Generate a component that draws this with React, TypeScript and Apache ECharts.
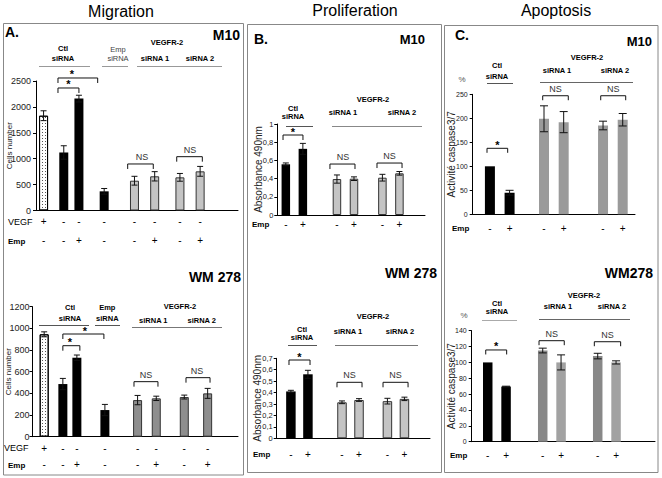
import { useEffect, useRef } from 'react';
import * as echarts from 'echarts';

const FONT = '"Liberation Sans", Arial, Helvetica, sans-serif';

// ---------------- DATA ----------------
// Migration (panel A): bars = VEGF, Ctl siRNA -, Ctl siRNA +, Emp siRNA, VEGFR-2 siRNA1 -, +, siRNA2 -, +
const migrationConditions = ['VEGF', 'Ctl siRNA -', 'Ctl siRNA +', 'Emp siRNA', 'siRNA 1 -', 'siRNA 1 +', 'siRNA 2 -', 'siRNA 2 +'];
const migrationVegfSigns = ['+', '-', '-', '-', '-', '-', '-', '-'];
const migrationEmpSigns = ['-', '-', '+', '-', '-', '+', '-', '+'];
const migrationM10Values = [1830, 1120, 2160, 370, 575, 660, 640, 756];
const migrationM10Errors = [95, 130, 65, 55, 85, 90, 75, 95];
const migrationWM278Values = [945, 486, 729, 246, 338, 354, 366, 400];
const migrationWM278Errors = [23, 52, 25, 52, 43, 20, 18, 46];

// Proliferation (panel B) and Apoptosis (panel C): Ctl siRNA -, +, siRNA1 -, +, siRNA2 -, +
const sixConditions = ['Ctl siRNA -', 'Ctl siRNA +', 'siRNA 1 -', 'siRNA 1 +', 'siRNA 2 -', 'siRNA 2 +'];
const sixEmpSigns = ['-', '+', '-', '+', '-', '+'];
const prolifM10Values = [0.557, 0.727, 0.395, 0.399, 0.41, 0.458];
const prolifM10Errors = [0.015, 0.06, 0.045, 0.02, 0.037, 0.02];
const prolifWM278Values = [0.41, 0.56, 0.315, 0.335, 0.325, 0.345];
const prolifWM278Errors = [0.01, 0.035, 0.012, 0.012, 0.025, 0.015];
const apopM10Values = [100, 45, 199, 192, 185, 197];
const apopM10Errors = [0, 5, 27, 22, 9, 13];
const apopWM278Values = [100, 69.5, 115, 100, 108, 100];
const apopWM278Errors = [0, 0.5, 3, 9.5, 3.5, 2];

// significance brackets: bar index a..b, height in data units
const migM10Brackets = [
  { a: 1, b: 3, y: 2558, text: '*' },
  { a: 1, b: 2, y: 2365, text: '*' },
  { a: 4, b: 5, y: 898, text: 'NS' },
  { a: 6, b: 7, y: 1039, text: 'NS' },
];
const migWMBrackets = [
  { a: 1, b: 3, y: 948, text: '*' },
  { a: 1, b: 2, y: 840, text: '*' },
  { a: 4, b: 5, y: 508, text: 'NS' },
  { a: 6, b: 7, y: 545, text: 'NS' },
];
const proM10Brackets = [
  { a: 0, b: 1, y: 0.879, text: '*' },
  { a: 2, b: 3, y: 0.56, text: 'NS' },
  { a: 4, b: 5, y: 0.571, text: 'NS' },
];
const proWMBrackets = [
  { a: 0, b: 1, y: 0.685, text: '*' },
  { a: 2, b: 3, y: 0.49, text: 'NS' },
  { a: 4, b: 5, y: 0.49, text: 'NS' },
];
const apoM10Brackets = [
  { a: 0, b: 1, y: 137.5, text: '*' },
  { a: 2, b: 3, y: 247, text: 'NS' },
  { a: 4, b: 5, y: 247, text: 'NS' },
];
const apoWMBrackets = [
  { a: 0, b: 1, y: 115.7, text: '*' },
  { a: 2, b: 3, y: 127.4, text: 'NS' },
  { a: 4, b: 5, y: 126.1, text: 'NS' },
];

// ---------------- STYLES / LAYOUT ----------------
const sBlack = { color: '#000' };
const sDotted = {
  color: '#fff', borderColor: '#000', borderWidth: 1,
  decal: { symbol: 'rect', symbolSize: 1, color: '#555', dashArrayX: [1, 2], dashArrayY: [1, 2] },
};
const sGreyLight = { color: '#c4c4c4', borderColor: '#333', borderWidth: 1 };
const sGreyDark = { color: '#8e8e8e', borderColor: '#333', borderWidth: 1 };
const sGreyC = { color: '#9a9a9a' };
const sGreyCD = { color: '#888888' };
const sGreyCL = { color: '#a2a2a2' };

const commaFmt = (v: number) => String(+Number(v).toFixed(3)).replace('.', ',');
const plainFmt = (v: number) => String(+Number(v).toFixed(3));

const panels = [
  {
    grid: { left: 36, top: 81, width: 202, height: 129.5 }, slots: 40, pos: [1, 5, 8, 13, 19, 23, 28, 32],
    values: migrationM10Values, errors: migrationM10Errors, names: migrationConditions,
    styles: [sDotted, sBlack, sBlack, sBlack, sGreyLight, sGreyLight, sGreyLight, sGreyLight],
    yMax: 2500, yInt: 500, fmt: plainFmt, labelSize: 9, labelMargin: 5,
    yName: 'Cells number', nameSize: 8, nameGap: 23, barWidth: 9, cap: 3,
    signRows: [migrationVegfSigns, migrationEmpSigns], signMargin: 1.5, signLH: 19.3,
    brackets: migM10Brackets, offs: [[-5.8, -6.5, -6], [-5.8, 0, 0], [-6.8, -1.4, 1.5], [-3.2, 2.2, 0.5]], leg: 5,
  },
  {
    grid: { left: 32.5, top: 306.7, width: 205.5, height: 130 }, slots: 44, pos: [2, 6, 9, 15, 22, 26, 32, 37],
    values: migrationWM278Values, errors: migrationWM278Errors, names: migrationConditions,
    styles: [sDotted, sBlack, sBlack, sBlack, sGreyDark, sGreyDark, sGreyDark, sGreyDark],
    yMax: 1200, yInt: 200, fmt: plainFmt, labelSize: 9, labelMargin: 3,
    yName: 'Cells number', nameSize: 8, nameGap: 20, barWidth: 9, cap: 3,
    signRows: [migrationVegfSigns, migrationEmpSigns], signMargin: 3.2, signLH: 16.7,
    brackets: migWMBrackets, offs: [[0, -1, 1.5], [0, 3, -1.5], [-3.6, 1.7, 0], [1.7, 2.4, -1]], leg: 5,
  },
  {
    grid: { left: 277.3, top: 124, width: 147.7, height: 91 }, slots: 26, pos: [1, 4, 10, 13, 18, 21],
    values: prolifM10Values, errors: prolifM10Errors, names: sixConditions,
    styles: [sBlack, sBlack, sGreyLight, sGreyLight, sGreyLight, sGreyLight],
    yMax: 1, yInt: 0.2, fmt: commaFmt, labelSize: 7.5, labelMargin: 4,
    yName: 'Absorbance 490nm', nameSize: 10, nameGap: 14, barWidth: 8.5, cap: 3,
    signRows: [sixEmpSigns], signMargin: 3, signLH: 12,
    brackets: proM10Brackets, offs: [[-2.8, 0.1, 0], [-7, 1, 0.5], [-5.4, 2.6, 0]], leg: 5,
  },
  {
    grid: { left: 276.7, top: 358.3, width: 153.3, height: 80 }, slots: 27, pos: [2, 5, 11, 14, 19, 22],
    values: prolifWM278Values, errors: prolifWM278Errors, names: sixConditions,
    styles: [sBlack, sBlack, sGreyLight, sGreyLight, sGreyLight, sGreyLight],
    yMax: 0.7, yInt: 0.1, fmt: commaFmt, labelSize: 7.5, labelMargin: 4,
    yName: 'Absorbance 490nm', nameSize: 10, nameGap: 14, barWidth: 9.5, cap: 3,
    signRows: [sixEmpSigns], signMargin: 10, signLH: 12,
    brackets: proWMBrackets, offs: [[-1.9, 2.1, 0], [-5, 3, 0], [-4.4, 3.6, 0]], leg: 5,
  },
  {
    grid: { left: 472.7, top: 94.3, width: 162.3, height: 120 }, slots: 33, pos: [3, 7, 14, 18, 26, 30],
    values: apopM10Values, errors: apopM10Errors, names: sixConditions,
    styles: [sBlack, sBlack, sGreyC, sGreyC, sGreyC, sGreyC],
    yMax: 250, yInt: 50, fmt: plainFmt, labelSize: 7, labelMargin: 5,
    yName: 'Activité caspase3/7', nameSize: 10, nameGap: 16.5, barWidth: 10, cap: 4,
    signRows: [sixEmpSigns], signMargin: 8, signLH: 12,
    brackets: apoM10Brackets, offs: [[-2.9, -1.9, 0], [-1.3, 4.6, 0], [-2.3, 3, 0]], leg: 4.5,
  },
  {
    grid: { left: 471.7, top: 330.7, width: 183.3, height: 111 }, slots: 40, pos: [3, 7, 15, 19, 27, 31],
    values: apopWM278Values, errors: apopWM278Errors, names: sixConditions,
    styles: [sBlack, sBlack, sGreyCD, sGreyCL, sGreyCD, sGreyCL],
    yMax: 140, yInt: 20, fmt: plainFmt, labelSize: 7, labelMargin: 5,
    yName: 'Activité caspase3/7', nameSize: 10, nameGap: 15.5, barWidth: 9.5, cap: 4,
    signRows: [sixEmpSigns], signMargin: 7.3, signLH: 12,
    brackets: apoWMBrackets, offs: [[-2, 0.6, 0], [-3.7, 3.2, 0], [-3.4, 4.6, 0]], leg: 4.5,
  },
];

// ---------------- GRAPHIC HELPERS ----------------
function txt(x: number, y: number, text: string, size: number, o: any = {}) {
  const align = o.align || 'center';
  return {
    type: 'text', x, y, silent: true,
    style: {
      text, fontSize: size, fontFamily: FONT, fontWeight: o.bold ? 'bold' : 'normal',
      fill: o.color || '#000', align, textAlign: align, verticalAlign: 'middle', textVerticalAlign: 'middle',
    },
  };
}
function ln(x1: number, y1: number, x2: number, y2: number, color = '#888') {
  return { type: 'line', silent: true, shape: { x1, y1, x2, y2 }, style: { stroke: color, lineWidth: 1 } };
}
function box(x: number, y: number, w: number, h: number) {
  return { type: 'rect', silent: true, shape: { x, y, width: w, height: h }, style: { fill: 'transparent', stroke: '#888', lineWidth: 1 } };
}

function buildGraphic() {
  const H = 7.5;
  const g: any[] = [
    box(3.5, 23.5, 240, 451.5), box(247.5, 24.5, 194, 448), box(444.5, 25.5, 213.5, 447),
    txt(121, 11, 'Migration', 16), txt(355, 10, 'Proliferation', 16), txt(556, 10, 'Apoptosis', 16),
    txt(5, 32, 'A.', 14, { bold: true, align: 'left' }),
    txt(254, 39, 'B.', 14, { bold: true, align: 'left' }),
    txt(455, 35, 'C.', 14, { bold: true, align: 'left' }),
    txt(240, 35, 'M10', 14, { bold: true, align: 'right' }),
    txt(425, 39, 'M10', 13, { bold: true, align: 'right' }),
    txt(652, 41, 'M10', 13, { bold: true, align: 'right' }),
    txt(241, 277, 'WM 278', 14, { bold: true, align: 'right' }),
    txt(437, 273, 'WM 278', 14, { bold: true, align: 'right' }),
    txt(653, 273, 'WM278', 14, { bold: true, align: 'right' }),
    // panel A top headers
    txt(63, 48.3, 'Ctl', H, { bold: true }), txt(63, 58.3, 'siRNA', H, { bold: true }), ln(39, 66.5, 90, 66.5, '#999'),
    txt(118, 49, 'Emp', H, { color: '#444' }), txt(118, 58, 'siRNA', H, { color: '#444' }), ln(102, 66.5, 128, 66.5, '#999'),
    txt(167, 42, 'VEGFR-2', H, { bold: true }), txt(155, 58, 'siRNA 1', H, { bold: true }), txt(200, 58, 'siRNA 2', H, { bold: true }),
    ln(137, 66.5, 222, 66.5, '#999'),
    // panel A bottom headers
    txt(70, 307.3, 'Ctl', H, { bold: true }), txt(70, 318.3, 'siRNA', H, { bold: true }), ln(39, 325.5, 89, 325.5, '#555'),
    txt(107.3, 307.3, 'Emp', H, { bold: true }), txt(107.3, 318.3, 'siRNA', H, { bold: true }), ln(95, 325.5, 120, 325.5, '#555'),
    txt(180, 306, 'VEGFR-2', H, { bold: true }), txt(153.3, 320, 'siRNA 1', H, { bold: true }), txt(201.7, 320, 'siRNA 2', H, { bold: true }),
    ln(132, 327.5, 222, 327.5, '#777'),
    // panel B top
    txt(293, 108.3, 'Ctl', H, { bold: true }), txt(293, 116.7, 'siRNA', H, { bold: true }), ln(286, 126.5, 313, 126.5, '#555'),
    txt(373, 99, 'VEGFR-2', H, { bold: true }), txt(343, 112, 'siRNA 1', H, { bold: true }), txt(402, 112, 'siRNA 2', H, { bold: true }),
    ln(332, 126.5, 422, 126.5, '#888'),
    // panel B bottom
    txt(302, 329, 'Ctl', H, { bold: true }), txt(302, 337.7, 'siRNA', H, { bold: true }), ln(288, 345.5, 317, 345.5, '#555'),
    txt(373, 316, 'VEGFR-2', H, { bold: true }), txt(348, 331.7, 'siRNA 1', H, { bold: true }), txt(400, 331.7, 'siRNA 2', H, { bold: true }),
    ln(335, 345.5, 418, 345.5, '#777'),
    // panel C top
    txt(497, 65, 'Ctl', H, { bold: true }), txt(497, 76, 'siRNA', H, { bold: true }), ln(487, 83.5, 513, 83.5, '#555'),
    txt(587, 57.3, 'VEGFR-2', H, { bold: true }), txt(557, 70, 'siRNA 1', H, { bold: true }), txt(615, 70, 'siRNA 2', H, { bold: true }),
    ln(540, 82.5, 633, 82.5, '#666'),
    txt(462, 79, '%', 8, { color: '#555' }),
    // panel C bottom
    txt(497, 303.3, 'Ctl', H, { bold: true }), txt(497, 311.7, 'siRNA', H, { bold: true }), ln(482, 320.5, 517, 320.5, '#aaa'),
    txt(584, 295, 'VEGFR-2', H, { bold: true }), txt(558, 306.7, 'siRNA 1', H, { bold: true }), txt(612, 306.7, 'siRNA 2', H, { bold: true }),
    ln(539, 319.5, 630, 319.5, '#666'),
    txt(464, 315, '%', 8, { color: '#555' }),
    // row labels
    txt(8, 221.7, 'VEGF', 9, { align: 'left' }), txt(8, 241, 'Emp', 8, { bold: true, align: 'left' }),
    txt(4, 448.3, 'VEGF', 9, { align: 'left' }), txt(8, 465, 'Emp', 8, { bold: true, align: 'left' }),
    txt(252, 224, 'Emp', 8, { bold: true, align: 'left' }), txt(253, 454.3, 'Emp', 8, { bold: true, align: 'left' }),
    txt(452, 228.3, 'Emp', 8, { bold: true, align: 'left' }), txt(450, 455, 'Emp', 8, { bold: true, align: 'left' }),
  ];
  return g;
}

function buildOption() {
  const grid: any[] = [];
  const xAxis: any[] = [];
  const yAxis: any[] = [];
  const series: any[] = [];
  panels.forEach((P, i) => {
    grid.push({ left: P.grid.left, top: P.grid.top, width: P.grid.width, height: P.grid.height, containLabel: false, outerBoundsMode: 'none' });
    const N = P.slots;
    const labelOf: string[] = new Array(N).fill('');
    P.pos.forEach((k, j) => { labelOf[k] = P.signRows.map((r) => r[j]).join('\n'); });
    xAxis.push({
      type: 'category', gridIndex: i, boundaryGap: true,
      data: labelOf.map((_, k) => 'slot' + k),
      axisLine: { show: true, lineStyle: { color: '#000', width: 1 } },
      axisTick: { show: false }, splitLine: { show: false },
      axisLabel: {
        interval: 0, margin: P.signMargin, lineHeight: P.signLH, fontSize: 10, color: '#000', fontFamily: FONT,
        formatter: (_v: any, idx: number) => labelOf[idx],
      },
    });
    yAxis.push({
      type: 'value', gridIndex: i, min: 0, max: P.yMax, interval: P.yInt,
      axisLine: { show: true, lineStyle: { color: '#000', width: 1 } },
      axisTick: { show: true, length: 3, lineStyle: { color: '#000' } },
      splitLine: { show: false },
      axisLabel: { fontSize: P.labelSize, color: '#222', margin: P.labelMargin, fontFamily: FONT, formatter: P.fmt },
      name: P.yName, nameLocation: 'middle', nameRotate: 90, nameGap: P.nameGap, nameMoveOverlap: false,
      nameTextStyle: { fontSize: P.nameSize, color: '#222', fontFamily: FONT },
    });
    const barData: any[] = new Array(N).fill('-');
    P.pos.forEach((k, j) => { barData[k] = { value: P.values[j], name: P.names[j], itemStyle: P.styles[j] }; });
    series.push({
      type: 'bar', xAxisIndex: i, yAxisIndex: i, barWidth: P.barWidth, data: barData, silent: true, z: 2,
    });
    series.push({
      type: 'custom', xAxisIndex: i, yAxisIndex: i, z: 5, silent: true,
      data: P.pos.map((k, j) => [k, P.values[j], P.errors[j]]),
      encode: { x: 0, y: 1 },
      renderItem: (_params: any, api: any) => {
        const k = api.value(0);
        const v = api.value(1);
        const e = api.value(2);
        if (!e) return { type: 'group', children: [] };
        const top = api.coord([k, v + e]);
        const bot = api.coord([k, v - e]);
        const x = top[0];
        const c = P.cap;
        const st = { stroke: '#111', lineWidth: 1 };
        return {
          type: 'group',
          children: [
            { type: 'line', shape: { x1: x, y1: top[1], x2: x, y2: bot[1] }, style: st },
            { type: 'line', shape: { x1: x - c, y1: top[1], x2: x + c, y2: top[1] }, style: st },
            { type: 'line', shape: { x1: x - c, y1: bot[1], x2: x + c, y2: bot[1] }, style: st },
          ],
        };
      },
    });
    series.push({
      type: 'custom', xAxisIndex: i, yAxisIndex: i, z: 6, silent: true, clip: false,
      data: P.brackets.map((b) => [P.pos[b.a], b.y]),
      encode: { x: 0, y: 1 },
      renderItem: (params: any, api: any) => {
        const b = P.brackets[params.dataIndex];
        const off = P.offs[params.dataIndex];
        const p1 = api.coord([P.pos[b.a], b.y]);
        const p2 = api.coord([P.pos[b.b], b.y]);
        const x1 = p1[0] + off[0];
        const x2 = p2[0] + off[1];
        const y = p1[1];
        const star = b.text === '*';
        return {
          type: 'group',
          children: [
            { type: 'polyline', shape: { points: [[x1, y + P.leg], [x1, y], [x2, y], [x2, y + P.leg]] }, style: { stroke: '#111', lineWidth: 1, fill: null } },
            {
              type: 'text', x: (x1 + x2) / 2 + off[2], y: star ? y - 3.5 : y - 7,
              style: {
                text: b.text, fontFamily: FONT, fontSize: star ? 11 : 9, fontWeight: star ? 'bold' : 'normal',
                fill: star ? '#000' : '#333', align: 'center', textAlign: 'center', verticalAlign: 'middle', textVerticalAlign: 'middle',
              },
            },
          ],
        };
      },
    });
  });
  return {
    animation: false,
    backgroundColor: '#fff',
    textStyle: { fontFamily: FONT },
    grid, xAxis, yAxis, series,
    graphic: { elements: buildGraphic() },
  };
}

export default function App() {
  const ref = useRef<HTMLDivElement>(null);
  useEffect(() => {
    if (!ref.current) return;
    const chart = echarts.init(ref.current, null, { renderer: 'svg' });
    chart.setOption(buildOption() as any);
    return () => chart.dispose();
  }, []);
  return (
    <div
      ref={ref}
      style={{ position: 'absolute', left: 0, top: 0, width: 662, height: 478, background: '#fff' }}
    />
  );
}
